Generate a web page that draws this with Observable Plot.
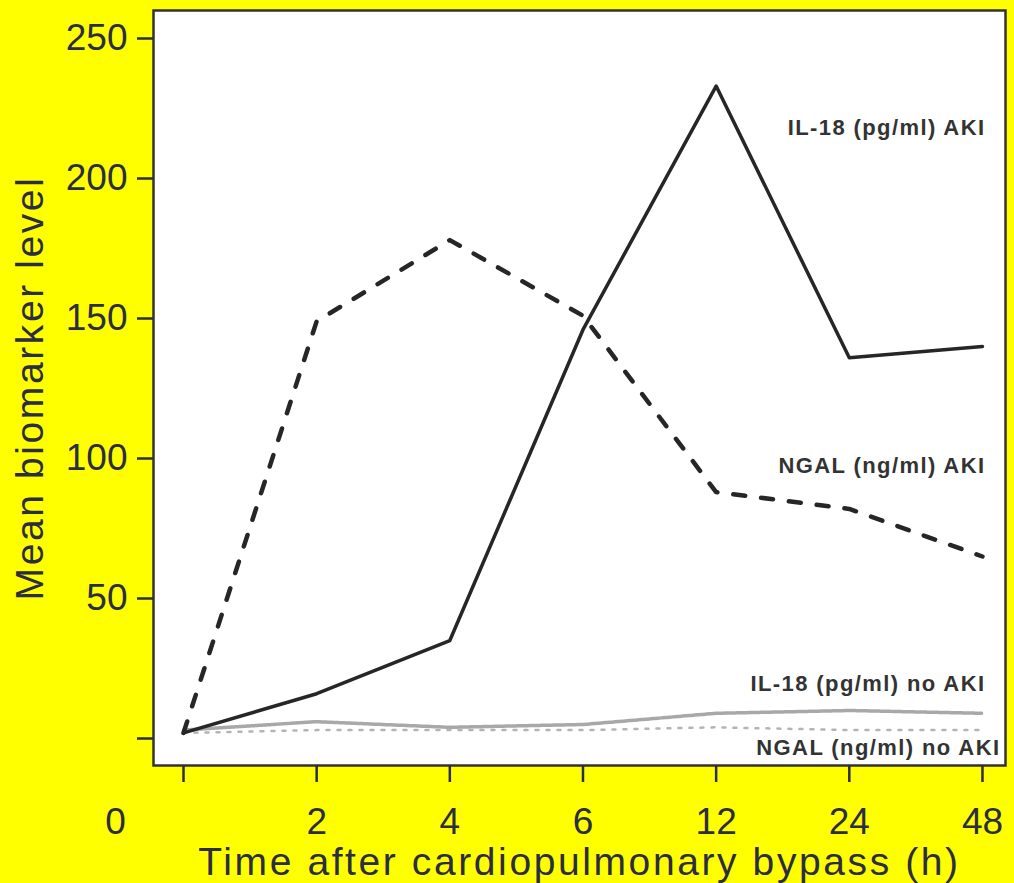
<!DOCTYPE html>
<html>
<head>
<meta charset="utf-8">
<script src="https://cdn.jsdelivr.net/npm/d3@7"></script>
<script src="https://cdn.jsdelivr.net/npm/@observablehq/plot@0.6"></script>
<style>
  html, body { margin: 0; padding: 0; background: #ffff00; }
</style>
</head>
<body>
<div id="chart"></div>
<script>
const hours = ["0", "2", "4", "6", "12", "24", "48"];
const il18AKI = [2, 16, 35, 146, 233, 136, 140];
const ngalAKI = [2, 149, 178, 151, 88, 82, 65];
const il18NoAKI = [3, 6, 4, 5, 9, 10, 9];
const ngalNoAKI = [2, 3, 3, 3, 4, 3, 3];
const yTicks = [0, 50, 100, 150, 200, 250];
const seriesLabels = ["IL-18 (pg/ml) AKI", "NGAL (ng/ml) AKI", "IL-18 (pg/ml) no AKI", "NGAL (ng/ml) no AKI"];
const labelY = [218, 97.5, 19.6, -3.2];
const xTitle = "Time after cardiopulmonary bypass (h)";
const yTitle = "Mean biomarker level";

const rows = arr => hours.map((h, i) => ({i, h, v: arr[i]}));
const labels = seriesLabels.map((t, k) => ({t, x: 6, y: labelY[k]}));

const ink = "#2b2d45";
const chart = Plot.plot({
  width: 1014,
  height: 883,
  marginLeft: 153,
  marginRight: 9,
  marginTop: 10,
  marginBottom: 118,
  style: {background: "#ffff00", fontFamily: "'Liberation Sans', Arial, Helvetica, sans-serif", overflow: "visible"},
  x: {type: "linear", domain: [-0.2253, 6.173]},
  y: {type: "linear", domain: [-9.64, 260]},
  marks: [
    Plot.frame({fill: "white", stroke: "none"}),
    Plot.line(rows(il18NoAKI), {x: "i", y: "v", stroke: "#a8a8a8", strokeWidth: 3.5, strokeDasharray: "3,1"}),
    Plot.line(rows(ngalNoAKI), {x: "i", y: "v", stroke: "#b4b4b4", strokeWidth: 2.5, strokeDasharray: "3,8"}),
    Plot.line(rows(ngalAKI), {x: "i", y: "v", stroke: "#262626", strokeWidth: 4.5, strokeDasharray: "12,16", strokeLinecap: "round"}),
    Plot.line(rows(il18AKI), {x: "i", y: "v", stroke: "#262626", strokeWidth: 3.5}),
    Plot.text(labels.slice(0, 3), {x: "x", y: "y", text: "t", dx: 3, textAnchor: "end", fontWeight: "bold", fontSize: 22, fill: "#333"}),
    Plot.text(labels.slice(3), {x: "x", y: "y", text: "t", dx: 18, textAnchor: "end", fontWeight: "bold", fontSize: 22, fill: "#333"}),
    Plot.frame({stroke: "#333", strokeWidth: 2.5}),
    Plot.axisY(yTicks, {tickSize: 16, tickPadding: 10, fontSize: 37, color: ink, strokeWidth: 2.5, tickFormat: d => d === 0 ? "" : d, label: null}),
    Plot.axisX([0, 1, 2, 3, 4, 5, 6], {tickSize: 17, tickPadding: 25, fontSize: 37, color: ink, strokeWidth: 2.5, tickFormat: i => i === 0 ? "" : hours[i], label: null}),
    Plot.axisX([0], {tickSize: 0, tickPadding: 42, fontSize: 37, color: ink, dx: -68, tickFormat: i => hours[i], label: null}),
    Plot.text([xTitle], {frameAnchor: "bottom", dy: 97, lineAnchor: "middle", textAnchor: "middle", fontSize: 39, fill: ink}),
    Plot.text([yTitle], {frameAnchor: "left", dx: -123, rotate: -90, lineAnchor: "middle", textAnchor: "middle", fontSize: 39, fill: ink})
  ]
});
// widen letter spacing of titles and series labels to match the reference's wide lettering
d3.select(chart).selectAll("text").each(function() {
  const t = this.textContent;
  if (t === xTitle || t === yTitle) this.style.letterSpacing = "2.6px";
  else if (seriesLabels.includes(t)) this.style.letterSpacing = "1.4px";
});
document.getElementById("chart").append(chart);
</script>
</body>
</html>
